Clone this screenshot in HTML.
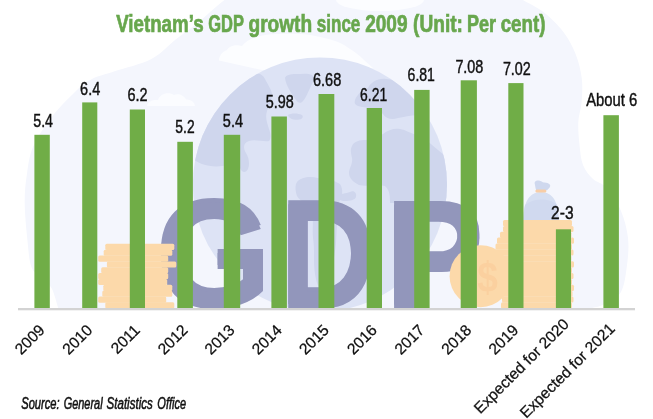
<!DOCTYPE html>
<html lang="en">
<head>
<meta charset="utf-8">
<title>Vietnam’s GDP growth since 2009</title>
<style>
html,body{margin:0;padding:0;background:#fff;}
body{width:653px;height:419px;overflow:hidden;}
svg{display:block;}
text{font-family:"Liberation Sans",sans-serif;}
.dl{font-size:18.5px;fill:#111;stroke:#111;stroke-width:0.45px;}
.xl{font-size:15.6px;fill:#111;stroke:#111;stroke-width:0.25px;}
.ttl{font-size:23.4px;font-weight:bold;fill:#68a74d;stroke:#68a74d;stroke-width:0.7px;}
.src{font-size:16.3px;font-style:italic;fill:#111;stroke:#111;stroke-width:0.55px;}
.gdp{font-size:149.9px;font-weight:bold;fill:#9296bb;}
</style>
</head>
<body>
<svg width="653" height="419" viewBox="0 0 653 419">
<defs>
<clipPath id="plot"><rect x="0" y="0" width="653" height="308"/></clipPath>
<clipPath id="globe"><circle cx="319.9" cy="184.5" r="127.1"/></clipPath>
<filter id="vthick" x="-5%" y="-5%" width="110%" height="110%"><feOffset in="SourceGraphic" dy="-2.4" result="a"/><feOffset in="SourceGraphic" dy="2.4" result="b"/><feMerge><feMergeNode in="a"/><feMergeNode in="b"/></feMerge></filter>
</defs>
<rect width="653" height="419" fill="#ffffff"/>
<g clip-path="url(#plot)">
<path d="M58.5 310.0 C58.4 309.5 59.1 310.7 57.9 307.0 C56.7 303.3 54.3 293.0 51.5 288.0 C48.7 283.0 44.4 280.5 41.0 277.0 C37.6 273.5 33.7 273.2 31.4 267.0 C29.1 260.8 28.5 250.7 27.4 240.0 C26.3 229.3 24.8 213.8 24.7 203.0 C24.6 192.2 25.4 184.3 26.8 175.0 C28.2 165.7 29.0 156.5 33.0 147.0 C37.0 137.5 43.8 127.4 51.0 118.0 C58.2 108.6 69.7 97.1 76.5 90.6 C83.3 84.1 85.7 82.2 92.0 79.0 C98.3 75.8 104.7 74.6 114.6 71.3 C124.5 68.0 141.2 64.3 151.4 59.0 C161.6 53.7 168.6 45.0 176.0 39.3 C183.4 33.6 189.1 29.9 195.7 24.6 C202.2 19.3 210.1 11.8 215.3 7.4 C220.5 3.0 225.1 -0.4 227.0 -2.0 L520.0 -2.0 C520.5 -1.7 518.8 -2.4 522.8 0.0 C526.8 2.4 536.9 7.0 543.7 12.3 C550.5 17.6 558.1 25.1 563.4 32.0 C568.7 39.0 572.5 46.2 575.6 54.0 C578.7 61.8 580.8 70.4 581.8 78.6 C582.8 86.8 582.1 95.8 581.5 103.0 C580.9 110.2 578.6 115.0 578.3 122.0 C578.0 129.0 578.7 137.8 579.5 145.0 C580.3 152.2 580.8 159.3 583.0 165.0 C585.2 170.7 589.0 175.2 593.0 179.0 C597.0 182.8 602.3 182.7 607.0 188.0 C611.7 193.3 617.5 202.7 621.0 211.0 C624.5 219.3 627.0 229.0 628.0 238.0 C629.0 247.0 628.2 256.0 627.0 265.0 C625.8 274.0 624.7 285.5 621.0 292.0 C617.3 298.5 609.8 301.3 605.0 304.0 C600.2 306.7 595.3 307.0 592.0 308.0 C588.7 309.0 586.2 309.7 585.0 310.0 Z" fill="#f4f6fd"/>
<path d="M147 106 C148 101 153 99.5 158 100 C160 94 168 91 174 95 C178 93 184 95 186 99.5 C191 99.5 194.5 102 195 106 Z" fill="#fbfcff"/>
<path d="M219 60.5 C219 56 222 52 227 50 C229 46 236 44 242 46 C248 38 262 34 278 34 C296 33 312 34 324 38 C334 40 342 43 347 47 C354 51 360 56 364 60 L373 68 L262 70 Z" fill="#fcfdff"/>
<ellipse cx="380" cy="0" rx="44" ry="11" fill="#fcfdff"/>
<circle cx="319.9" cy="184.5" r="127.1" fill="#dde3f5"/>
<g fill="#cfd6ed" clip-path="url(#globe)">
<path d="M185 160 L185 110 L225 70 L256 74 C260 73 263 75 265 79 C268 85 272 90 272 95 C272 101 269 106 267 111 C265 117 267 123 269 129 C271 134 271 139 269 141 C263 142 255 139 249 141 C243 143 243 148 246 153 C249 158 250 164 248 169 C246 173 242 173 240 168 C238 164 234 163 228 165 C220 167 210 167 202 164 C197 162 194 158 185 160 Z"/>
<path d="M285 78 C286 75 290 74 296 74 C302 74 308 73 312 75 C315 77 313 82 311 86 C308 92 306 98 303 101 C301 104 298 103 296 100 C292 94 286 86 285 78 Z"/>
<path d="M288 115 C291 113 298 113 302 115 C304 117 302 119.5 298 119.7 C294 120 289 119 288 115 Z"/>
<path d="M355 100 C357 94 363 90 368 88 C371 82 378 78 386 79 C394 79 400 84 404 88 L425 100 L425 116 C415 114 405 117 398 118 C392 120 386 119 383 114 C378 108 366 108 358 106 C355 105 354 103 355 100 Z"/>
<path d="M352 146 C354 141 360 140 366 140 C372 139 378 137 383 134 C388 130 394 128 400 129 C406 130 410 133 416 135 C424 137 431 144 438 150 L455 164 L455 203 L390 203 C390 197 390 190 385 186 C378 184 366 187 359 185 C353 182 349 178 349 173 C349 168 353 164 352 158 C351 153 350 150 352 146 Z"/>
<path d="M337 196 C340 193 346 194 350 192 C354 190 357 193 356 197 C355 200 350 201 345 201 C341 201 337 199 337 196 Z"/>
<path d="M297 182 C301 177 310 176 318 178 C326 179 334 180 340 184 C344 190 342 198 338 204 L336 243 C334 262 330 280 324 290 C320 292 317 286 315 274 C313 262 315 250 313 238 C312 228 314 220 312 212 C310 204 300 202 297 196 C295 190 295 185 297 182 Z"/>
</g>
<text class="gdp" y="305.6" filter="url(#vthick)"><tspan x="154.7" textLength="117.6" lengthAdjust="spacingAndGlyphs">G</tspan><tspan x="279.3" textLength="97.0" lengthAdjust="spacingAndGlyphs">D</tspan><tspan x="384.1" textLength="100.6" lengthAdjust="spacingAndGlyphs">P</tspan></text>
<g fill="#fcd9aa">
<rect x="105.3" y="243.8" width="69.0" height="6.15" rx="1.5"/>
<rect x="103.7" y="249.7" width="68.6" height="6.15" rx="1.5"/>
<rect x="98.2" y="255.5" width="70.0" height="6.15" rx="1.5"/>
<rect x="106.9" y="261.4" width="69.4" height="6.15" rx="1.5"/>
<rect x="101.2" y="267.2" width="67.0" height="6.15" rx="1.5"/>
<rect x="98.2" y="273.1" width="70.0" height="6.15" rx="1.5"/>
<rect x="98.2" y="278.9" width="69.0" height="6.15" rx="1.5"/>
<rect x="103.3" y="284.8" width="69.0" height="6.15" rx="1.5"/>
<rect x="102.3" y="290.6" width="70.0" height="6.15" rx="1.5"/>
<rect x="98.2" y="296.5" width="68.0" height="6.15" rx="1.5"/>
<rect x="105.3" y="302.3" width="69.0" height="6.15" rx="1.5"/>
</g>
<path d="M534.8 184 C534 181.5 536.5 180 539 180.6 C541 181 542.5 182.5 544 182.5 C546 182.3 548.5 183 550 184.8 C551 186.5 549 188.5 547 190.2 L536.2 190.2 C535.5 188.5 535.2 186 534.8 184 Z" fill="#cfd8ee"/>
<path d="M523.3 222 C523 211 525 202 529.5 197 C532.5 193.6 536.5 192 541 192 C545.5 192 549.5 193.6 552.5 197 C557 202 558.8 211 558.5 222 Z" fill="#d6dff2"/>
<path d="M525 205 C530 201 536 199.5 541 199.5 C547 199.5 553 201 557 205 C558 210 558.6 216 558.5 222 L523.3 222 C523.2 216 524 210 525 205 Z" fill="#d0d9ef"/>
<rect x="535.4" y="189.4" width="11" height="3" rx="1.5" fill="#f8cda6"/>
<g fill="#fcd9aa">
<rect x="503.0" y="220.0" width="69.0" height="6.18" rx="1.5"/>
<rect x="503.0" y="225.9" width="70.5" height="6.18" rx="1.5"/>
<rect x="500.0" y="231.8" width="71.5" height="6.18" rx="1.5"/>
<rect x="497.0" y="237.6" width="77.0" height="6.18" rx="1.5"/>
<rect x="495.5" y="243.5" width="76.5" height="6.18" rx="1.5"/>
<rect x="495.5" y="249.4" width="78.0" height="6.18" rx="1.5"/>
<rect x="497.0" y="255.3" width="74.5" height="6.18" rx="1.5"/>
<rect x="499.0" y="261.2" width="75.0" height="6.18" rx="1.5"/>
<rect x="498.0" y="267.0" width="74.0" height="6.18" rx="1.5"/>
<rect x="500.0" y="272.9" width="73.5" height="6.18" rx="1.5"/>
<rect x="499.0" y="278.8" width="73.0" height="6.18" rx="1.5"/>
<rect x="501.0" y="284.7" width="73.0" height="6.18" rx="1.5"/>
<rect x="500.0" y="290.6" width="72.5" height="6.18" rx="1.5"/>
<rect x="502.0" y="296.4" width="71.5" height="6.18" rx="1.5"/>
<rect x="501.0" y="302.3" width="71.0" height="6.18" rx="1.5"/>
</g>
<circle cx="480.6" cy="276.2" r="31" fill="#fcd9aa"/>
<text x="477.3" y="291.6" textLength="20.6" lengthAdjust="spacingAndGlyphs" style="font-size:43px;font-weight:bold;fill:#fbd09f;">$</text>
</g>

<g fill="#70ad47">
<rect x="34.4" y="134.8" width="15.4" height="173.2"/>
<rect x="82.2" y="102.4" width="15.1" height="205.6"/>
<rect x="129.8" y="109.5" width="15.2" height="198.5"/>
<rect x="177.3" y="141.8" width="15.6" height="166.2"/>
<rect x="223.8" y="134.8" width="16.4" height="173.2"/>
<rect x="271.4" y="116.5" width="15.5" height="191.5"/>
<rect x="318.5" y="94.0" width="15.8" height="214.0"/>
<rect x="366.7" y="108.0" width="15.3" height="200.0"/>
<rect x="414.2" y="89.9" width="15.4" height="218.1"/>
<rect x="460.7" y="80.3" width="16.2" height="227.7"/>
<rect x="508.3" y="83.1" width="15.2" height="224.9"/>
<rect x="555.9" y="229.3" width="15.1" height="78.7"/>
<rect x="603.4" y="115.2" width="15.5" height="192.8"/>
</g>
<rect x="18" y="308" width="617" height="2.3" fill="#d3d3d3"/>
<g class="dl">
<text x="33.25" y="127.0" textLength="19.75" lengthAdjust="spacingAndGlyphs">5.4</text>
<text x="80.10" y="95.1" textLength="20.11" lengthAdjust="spacingAndGlyphs">6.4</text>
<text x="127.40" y="100.9" textLength="20.10" lengthAdjust="spacingAndGlyphs">6.2</text>
<text x="175.35" y="133.0" textLength="19.22" lengthAdjust="spacingAndGlyphs">5.2</text>
<text x="222.85" y="126.8" textLength="20.12" lengthAdjust="spacingAndGlyphs">5.4</text>
<text x="265.85" y="108.0" textLength="27.99" lengthAdjust="spacingAndGlyphs">5.98</text>
<text x="313.00" y="85.9" textLength="28.19" lengthAdjust="spacingAndGlyphs">6.68</text>
<text x="360.10" y="101.2" textLength="27.00" lengthAdjust="spacingAndGlyphs">6.21</text>
<text x="407.60" y="81.1" textLength="27.31" lengthAdjust="spacingAndGlyphs">6.81</text>
<text x="455.40" y="73.0" textLength="27.94" lengthAdjust="spacingAndGlyphs">7.08</text>
<text x="502.90" y="75.1" textLength="27.89" lengthAdjust="spacingAndGlyphs">7.02</text>
<text x="551.10" y="219.4" textLength="22.44" lengthAdjust="spacingAndGlyphs">2-3</text>
<text x="586.15" y="106.3" textLength="51.08" lengthAdjust="spacingAndGlyphs">About 6</text>
</g>
<g class="xl" text-anchor="end">
<text transform="translate(45.7 331.0) rotate(-45)" x="0" y="0">2009</text>
<text transform="translate(93.3 331.0) rotate(-45)" x="0" y="0">2010</text>
<text transform="translate(141.0 331.0) rotate(-45)" x="0" y="0">2011</text>
<text transform="translate(188.7 331.0) rotate(-45)" x="0" y="0">2012</text>
<text transform="translate(235.6 331.0) rotate(-45)" x="0" y="0">2013</text>
<text transform="translate(282.8 331.0) rotate(-45)" x="0" y="0">2014</text>
<text transform="translate(330.0 331.0) rotate(-45)" x="0" y="0">2015</text>
<text transform="translate(378.0 331.0) rotate(-45)" x="0" y="0">2016</text>
<text transform="translate(425.5 331.0) rotate(-45)" x="0" y="0">2017</text>
<text transform="translate(472.4 331.0) rotate(-45)" x="0" y="0">2018</text>
<text transform="translate(519.5 331.0) rotate(-45)" x="0" y="0">2019</text>
<text transform="translate(569.8 325.0) rotate(-45)" x="0" y="0">Expected for 2020</text>
<text transform="translate(615.8 329.5) rotate(-45)" x="0" y="0">Expected for 2021</text>
</g>
<text class="ttl" y="31.5"><tspan x="116.15" textLength="87.48" lengthAdjust="spacingAndGlyphs">Vietnam’s</tspan> <tspan x="208.20" textLength="35.38" lengthAdjust="spacingAndGlyphs">GDP</tspan> <tspan x="248.50" textLength="63.64" lengthAdjust="spacingAndGlyphs">growth</tspan> <tspan x="316.85" textLength="43.45" lengthAdjust="spacingAndGlyphs">since</tspan> <tspan x="365.15" textLength="42.40" lengthAdjust="spacingAndGlyphs">2009</tspan> <tspan x="413.10" textLength="49.83" lengthAdjust="spacingAndGlyphs">(Unit:</tspan> <tspan x="466.95" textLength="29.10" lengthAdjust="spacingAndGlyphs">Per</tspan> <tspan x="500.65" textLength="44.76" lengthAdjust="spacingAndGlyphs">cent)</tspan></text>
<text class="src" y="408.7"><tspan x="21.20" textLength="38.48" lengthAdjust="spacingAndGlyphs">Source:</tspan> <tspan x="63.65" textLength="38.99" lengthAdjust="spacingAndGlyphs">General</tspan> <tspan x="106.60" textLength="46.16" lengthAdjust="spacingAndGlyphs">Statistics</tspan> <tspan x="157.35" textLength="28.78" lengthAdjust="spacingAndGlyphs">Office</tspan></text>
</svg>
</body>
</html>
